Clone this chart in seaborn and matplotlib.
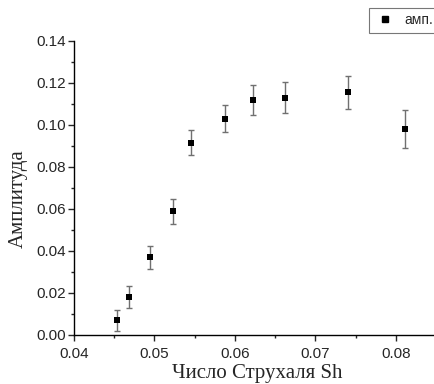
#!/usr/bin/env python3

import numpy as np
import matplotlib.pyplot as plt
from matplotlib.ticker import MultipleLocator, FormatStrFormatter
import seaborn as sns
import pandas as pd

# data
sh = [0.04535, 0.0468, 0.0494, 0.0523, 0.0546, 0.0588, 0.0622, 0.0662, 0.0740, 0.0811]
amp = [0.007, 0.018, 0.037, 0.059, 0.0915, 0.103, 0.112, 0.113, 0.1155, 0.098]
err = [0.005, 0.0053, 0.0055, 0.006, 0.006, 0.0065, 0.007, 0.0075, 0.008, 0.009]


def main():
    sns.set_style("ticks")
    plt.rcParams['font.family'] = ['Liberation Sans', 'DejaVu Sans']
    plt.rcParams['font.size'] = 11

    df = pd.DataFrame({'sh': sh, 'amp': amp, 'err': err})

    fig = plt.figure(figsize=(4.34, 3.84), dpi=100)
    ax = fig.add_axes([74 / 434, 49 / 384, 362 / 434, 294 / 384])

    ax.errorbar(df['sh'], df['amp'], yerr=df['err'], fmt='none',
                ecolor='#707070', elinewidth=1, capsize=2.5, capthick=1, zorder=2)
    sns.scatterplot(data=df, x='sh', y='amp', marker='s', color='black',
                    s=24, edgecolor='black', linewidth=0, label='амп.',
                    ax=ax, zorder=3, legend=False)

    ax.set_xlim(0.04, 0.085)
    ax.set_ylim(0, 0.14)
    ax.xaxis.set_major_locator(MultipleLocator(0.01))
    ax.xaxis.set_minor_locator(MultipleLocator(0.005))
    ax.yaxis.set_major_locator(MultipleLocator(0.02))
    ax.yaxis.set_minor_locator(MultipleLocator(0.01))
    ax.xaxis.set_major_formatter(FormatStrFormatter('%.2f'))
    ax.yaxis.set_major_formatter(FormatStrFormatter('%.2f'))
    ax.tick_params(which='major', length=4, width=1, direction='out', labelsize=11)
    ax.tick_params(axis='x', which='major', pad=5)
    ax.tick_params(axis='y', which='major', pad=2)
    ax.tick_params(which='minor', length=2.5, width=1, direction='out')

    ax.spines['top'].set_visible(False)
    ax.spines['right'].set_visible(False)
    for s in ['left', 'bottom']:
        ax.spines[s].set_color('black')
        ax.spines[s].set_linewidth(1)

    ax.set_xlabel('Число Струхаля Sh', family=['Liberation Serif', 'DejaVu Serif'],
                  fontsize=15)
    ax.set_ylabel('Амплитуда', family=['Liberation Serif', 'DejaVu Serif'],
                  fontsize=15)
    ax.xaxis.set_label_coords(0.505, -0.1)
    ax.yaxis.set_label_coords(-0.127, 0.463)

    h = plt.Line2D([], [], marker='s', color='black', linestyle='none', markersize=4.5)
    leg = fig.legend([h], ['амп.'], loc='upper left',
                     bbox_to_anchor=(369 / 434, 1 - 8 / 384),
                     frameon=True, fancybox=False, fontsize=10,
                     handlelength=1.6, borderpad=0.38, handletextpad=0.6,
                     borderaxespad=0)
    leg.get_frame().set_edgecolor('#555555')
    leg.get_frame().set_linewidth(0.8)

    plt.savefig('out.png', dpi=100)
    plt.close()


if __name__ == '__main__':
    main()
